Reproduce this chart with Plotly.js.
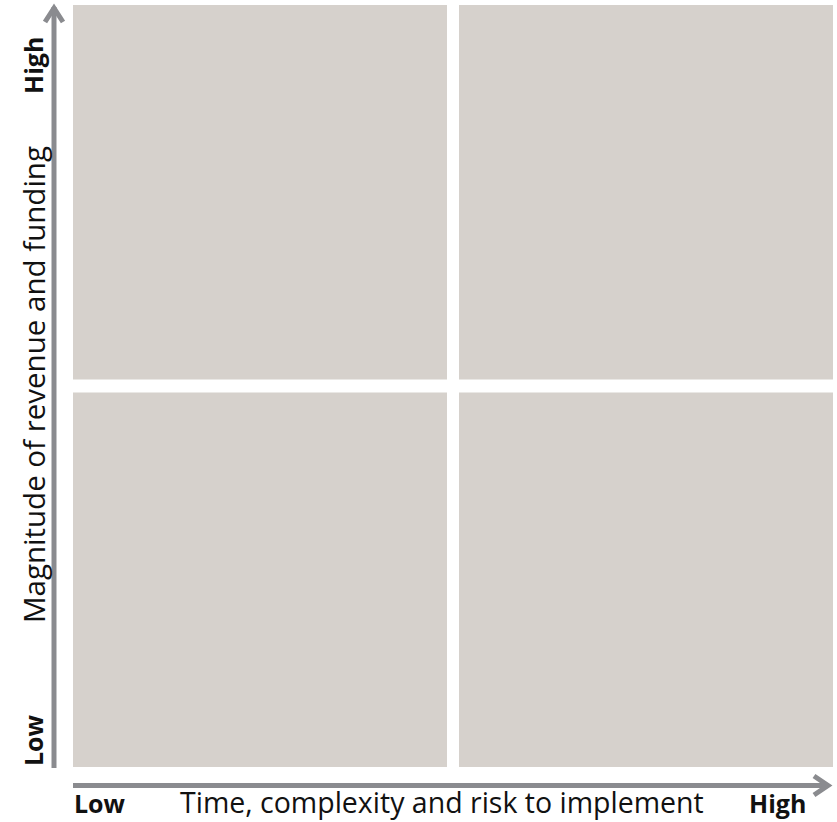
<!DOCTYPE html>
<html><head><meta charset="utf-8">
<script src="https://cdn.plot.ly/plotly-3.0.1.min.js"></script>
<style>html,body{margin:0;padding:0;background:#fff;}</style>
</head><body><div id="chart" style="width:837px;height:822px;"></div>
<script>
// Quadrant data (column, row indices in a 2x2 grid)
const quadCols = [0, 1, 0, 1];
const quadRows = [1, 1, 0, 0];
const quadColors = ['#d6d1cc', '#d6d1cc', '#d6d1cc', '#d6d1cc'];
const xTitle = 'Time, complexity and risk to implement';
const yTitle = 'Magnitude of revenue and funding';
const lowLabel = 'Low';
const highLabel = 'High';

const W = 837, H = 822;
const mL = 73, mR = 4, mT = 5, mB = 55;
const pw = W - mL - mR, ph = H - mT - mB;
const px = x => (x - mL) / pw;
const py = y => (H - mB - y) / ph;
const gapX = 12 / pw * 2, gapY = 13 / ph * 2;

const shapes = [];
for (let i = 0; i < quadCols.length; i++) {
  const c = quadCols[i], r = quadRows[i];
  shapes.push({type:'rect', xref:'x', yref:'y', layer:'below',
    x0: c === 0 ? 0 : c + gapX/2, x1: c === 0 ? 1 - gapX/2 : 2,
    y0: r === 0 ? 0 : r + gapY/2, y1: r === 0 ? 1 - gapY/2 : 2,
    fillcolor: quadColors[i], line:{width:0}});
}
const arrowColor = '#8a8b8f';
// vertical axis arrow
shapes.push({type:'line', xref:'paper', yref:'paper', x0:px(54), x1:px(54), y0:py(768), y1:py(7), line:{color:arrowColor, width:5}});
shapes.push({type:'path', xref:'paper', yref:'paper', path:`M ${px(45)} ${py(22)} L ${px(54)} ${py(8)} L ${px(63)} ${py(22)}`, line:{color:arrowColor, width:5}});
// horizontal axis arrow
shapes.push({type:'line', xref:'paper', yref:'paper', x0:px(73), x1:px(827), y0:py(785.5), y1:py(785.5), line:{color:arrowColor, width:5}});
shapes.push({type:'path', xref:'paper', yref:'paper', path:`M ${px(814)} ${py(776)} L ${px(828)} ${py(785.5)} L ${px(814)} ${py(795)}`, line:{color:arrowColor, width:5}});

const fam = '"Open Sans", sans-serif';
const annotations = [
  {text:xTitle, x:px(442), y:py(802), xref:'paper', yref:'paper', showarrow:false, borderpad:0, font:{family:fam, size:28.5, color:'#111'}, xanchor:'center', yanchor:'middle'},
  {text:'<b>'+lowLabel+'</b>', x:px(100), y:py(803), xref:'paper', yref:'paper', showarrow:false, borderpad:0, font:{family:fam, size:25, color:'#111'}, xanchor:'center', yanchor:'middle'},
  {text:'<b>'+highLabel+'</b>', x:px(777), y:py(803), xref:'paper', yref:'paper', showarrow:false, borderpad:0, font:{family:fam, size:25, color:'#111'}, xanchor:'center', yanchor:'middle'},
  {text:yTitle, x:px(33), y:py(385), xref:'paper', yref:'paper', showarrow:false, textangle:-90, font:{family:fam, size:29.5, color:'#111'}, xanchor:'center', yanchor:'middle'},
  {text:'<b>'+lowLabel+'</b>', x:px(33), y:py(740), xref:'paper', yref:'paper', showarrow:false, textangle:-90, font:{family:fam, size:25, color:'#111'}, xanchor:'center', yanchor:'middle'},
  {text:'<b>'+highLabel+'</b>', x:px(33), y:py(66), xref:'paper', yref:'paper', showarrow:false, textangle:-90, font:{family:fam, size:25, color:'#111'}, xanchor:'center', yanchor:'middle'}
];

const layout = {
  width: W, height: H,
  margin:{l:mL, r:mR, t:mT, b:mB, pad:0},
  paper_bgcolor:'#ffffff', plot_bgcolor:'#ffffff',
  xaxis:{range:[0,2], visible:false, fixedrange:true},
  yaxis:{range:[0,2], visible:false, fixedrange:true},
  showlegend:false,
  shapes: shapes,
  annotations: annotations
};
Plotly.newPlot('chart', [{type:'scatter', x:[], y:[], mode:'markers'}], layout, {displayModeBar:false, staticPlot:true});
</script></body></html>
